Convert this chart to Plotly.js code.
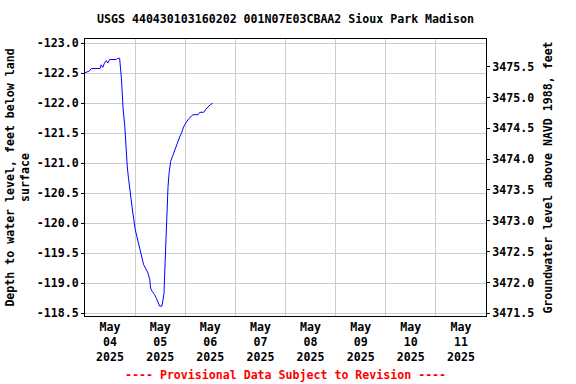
<!DOCTYPE html>
<html>
<head>
<meta charset="utf-8">
<script src="https://cdn.plot.ly/plotly-3.0.1.min.js"></script>
<style>html,body{margin:0;padding:0;background:#fff;}#chart{width:576px;height:384px;}</style>
</head>
<body>
<div id="chart"></div>
<script>
// Observation times and depth to water (feet below land surface)
const times = [
'2025-05-04 00:00','2025-05-04 02:10','2025-05-04 03:00','2025-05-04 07:15','2025-05-04 07:45',
'2025-05-04 08:30','2025-05-04 09:20','2025-05-04 10:10','2025-05-04 10:55','2025-05-04 11:45',
'2025-05-04 15:00','2025-05-04 15:45','2025-05-04 16:35','2025-05-04 16:55','2025-05-04 17:25',
'2025-05-04 17:50','2025-05-04 18:10','2025-05-04 19:00','2025-05-04 19:20','2025-05-04 19:45',
'2025-05-04 20:15','2025-05-04 20:50','2025-05-04 21:20','2025-05-04 21:50','2025-05-04 22:30',
'2025-05-04 22:55','2025-05-04 23:25','2025-05-05 00:05','2025-05-05 00:50','2025-05-05 01:50',
'2025-05-05 02:40','2025-05-05 03:15','2025-05-05 04:05','2025-05-05 05:00','2025-05-05 06:10',
'2025-05-05 07:00','2025-05-05 07:25','2025-05-05 08:15','2025-05-05 09:20','2025-05-05 10:10',
'2025-05-05 10:55','2025-05-05 11:45','2025-05-05 12:50','2025-05-05 13:20','2025-05-05 13:50',
'2025-05-05 14:10','2025-05-05 14:40','2025-05-05 15:00','2025-05-05 15:30','2025-05-05 15:45',
'2025-05-05 16:15','2025-05-05 16:35','2025-05-05 17:00','2025-05-05 17:50','2025-05-05 18:40',
'2025-05-05 19:25','2025-05-05 20:15','2025-05-05 21:20','2025-05-05 22:10','2025-05-05 23:15',
'2025-05-06 00:35','2025-05-06 01:50','2025-05-06 03:45','2025-05-06 06:10','2025-05-06 07:00',
'2025-05-06 08:50','2025-05-06 09:50','2025-05-06 10:55','2025-05-06 12:05','2025-05-06 13:05'
];
const depths = [
-122.51,-122.54,-122.58,-122.58,-122.64,
-122.60,-122.67,-122.71,-122.67,-122.73,
-122.73,-122.75,-122.75,-122.64,-122.42,
-122.17,-121.94,-121.64,-121.39,-121.17,
-120.94,-120.75,-120.58,-120.44,-120.28,
-120.17,-120.00,-119.89,-119.78,-119.64,
-119.50,-119.39,-119.31,-119.25,-119.17,
-119.06,-118.92,-118.86,-118.81,-118.75,
-118.69,-118.62,-118.62,-118.72,-118.83,
-119.17,-119.67,-120.06,-120.39,-120.61,
-120.83,-120.94,-121.03,-121.11,-121.19,
-121.28,-121.33,-121.44,-121.50,-121.61,
-121.69,-121.75,-121.81,-121.81,-121.85,
-121.85,-121.90,-121.94,-121.98,-122.00
];

// X tick positions (mid-day) and labels
const xTickVals = ['2025-05-04 12:00','2025-05-05 12:00','2025-05-06 12:00','2025-05-07 12:00',
                   '2025-05-08 12:00','2025-05-09 12:00','2025-05-10 12:00','2025-05-11 12:00'];
const xTickText = ['May<br>04<br>2025','May<br>05<br>2025','May<br>06<br>2025','May<br>07<br>2025',
                   'May<br>08<br>2025','May<br>09<br>2025','May<br>10<br>2025','May<br>11<br>2025'];

// Left axis ticks
const leftTickVals = [-123.0,-122.5,-122.0,-121.5,-121.0,-120.5,-120.0,-119.5,-119.0,-118.5];
const leftTickText = ['-123.0','-122.5','-122.0','-121.5','-121.0','-120.5','-120.0','-119.5','-119.0','-118.5'];
// Right axis ticks
const rightTickVals = [3471.5,3472.0,3472.5,3473.0,3473.5,3474.0,3474.5,3475.0,3475.5];
const rightTickText = ['3471.5','3472.0','3472.5','3473.0','3473.5','3474.0','3474.5','3475.0','3475.5'];

const FONT = '"DejaVu Sans Mono", "Liberation Mono", monospace';
const fs = 11.6;
const baseFont = {family: FONT, size: fs, color: '#000', weight: 'bold'};

const traces = [
  {x: times, y: depths, type: 'scatter', mode: 'lines',
   line: {color: '#0000ff', width: 1}, xaxis: 'x', yaxis: 'y', hoverinfo: 'skip', showlegend: false},
  {x: [times[0]], y: [3473], type: 'scatter', mode: 'markers', marker: {opacity: 0},
   xaxis: 'x', yaxis: 'y2', hoverinfo: 'skip', showlegend: false}
];

const layout = {
  width: 576, height: 384,
  margin: {l: 85, r: 90, t: 39, b: 68, pad: 0},
  paper_bgcolor: '#fff', plot_bgcolor: '#fff',
  font: baseFont,
  showlegend: false,
  title: {text: 'USGS 440430103160202 001N07E03CBAA2 Sioux Park Madison',
          font: baseFont, x: 0.5, xref: 'paper', xanchor: 'center',
          y: 1 - 19/384, yref: 'container', yanchor: 'middle'},
  xaxis: {
    type: 'date',
    range: ['2025-05-04 00:00', '2025-05-12 00:00'],
    tickmode: 'array', tickvals: xTickVals, ticktext: xTickText,
    showgrid: false, ticks: '', tickfont: baseFont,
    showline: true, linecolor: '#000', linewidth: 1, mirror: true,
    zeroline: false, fixedrange: true,
    minor: {tick0: '2025-05-04', dtick: 86400000, showgrid: true, gridcolor: '#cccccc', gridwidth: 1, ticks: ''}
  },
  yaxis: {
    range: [-118.455, -123.072],
    tickmode: 'array', tickvals: leftTickVals, ticktext: leftTickText,
    showgrid: true, gridcolor: '#cccccc', gridwidth: 1,
    ticks: 'outside', ticklen: 3, tickcolor: '#000', tickfont: baseFont,
    showline: true, linecolor: '#000', linewidth: 1, mirror: true,
    zeroline: false, automargin: false,
    title: {text: 'Depth to water level, feet below land<br>surface', font: baseFont, standoff: 4}
  },
  yaxis2: {
    overlaying: 'y', side: 'right',
    range: [3471.456, 3475.949],
    tickmode: 'array', tickvals: rightTickVals, ticktext: rightTickText,
    showgrid: false, ticks: 'outside', ticklen: 3, tickcolor: '#000', tickfont: baseFont,
    showline: true, linecolor: '#000', linewidth: 1,
    zeroline: false, automargin: false,
    title: {text: 'Groundwater level above NAVD 1988, feet', font: baseFont, standoff: 10}
  },
  annotations: [
    {text: '---- Provisional Data Subject to Revision ----', xref: 'paper', yref: 'paper',
     x: 0.5, y: -(375-316)/277, xanchor: 'center', yanchor: 'middle', showarrow: false,
     font: {family: FONT, size: fs, color: '#ff0000', weight: 'bold'}}
  ]
};

Plotly.newPlot('chart', traces, layout, {staticPlot: true, displayModeBar: false});
</script>
</body>
</html>
